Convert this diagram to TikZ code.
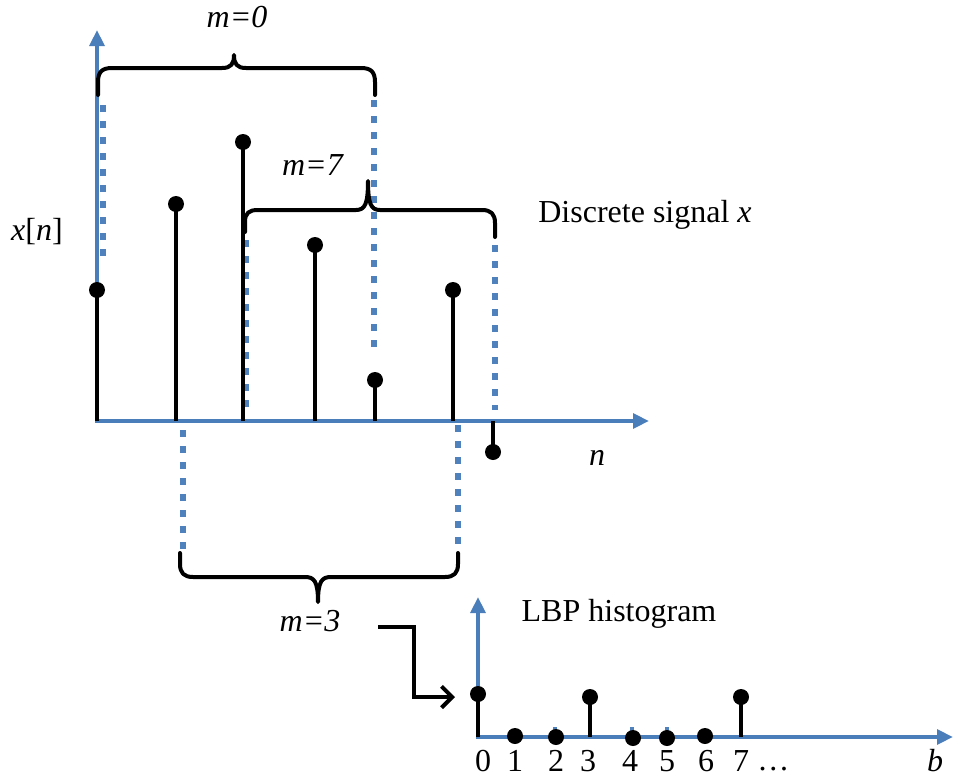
\documentclass[tikz,border=0pt]{standalone}
\usepackage{fontspec}
\setmainfont{Liberation Serif}
\usetikzlibrary{arrows.meta,calc}
\definecolor{axblue}{RGB}{74,126,187}
\definecolor{dotblue}{RGB}{79,129,189}
\begin{document}
\begin{tikzpicture}[x=0.75pt,y=-0.75pt,
 axis/.style={axblue,line width=3pt,-{Triangle[length=12pt,width=11pt]}},
 stem/.style={line width=3.4pt,black},
 dot/.style={circle,fill=black,inner sep=0pt,minimum size=12pt},
 dots/.style={dotblue,line width=5pt,dash pattern=on 5pt off 7pt},
 brace/.style={line width=3pt,black,line cap=round,line join=round},
 lbl/.style={font=\fontsize{24}{28}\selectfont,inner sep=0pt},
 elbow/.style={line width=3pt,black,-{Straight Barb[length=8pt,width=16pt,line width=3pt]}}]
\useasboundingbox (0,0) rectangle (954,778);

% ---- top axes
\coordinate (o) at (97,421);
\coordinate (ytop) at (97,30);
\coordinate (xend) at (649,421);
\draw[axis] (o) -- (ytop);
\draw[axis] ($(o)+(-2,0)$) -- (xend);

% ---- dotted window lines
\coordinate (da1) at (103,105); \coordinate (da2) at (103,262);
\coordinate (db1) at (374,100); \coordinate (db2) at (374,352);
\coordinate (dc1) at (246,240); \coordinate (dc2) at (246,412);
\coordinate (dd1) at (495,245); \coordinate (dd2) at (495,410);
\coordinate (de1) at (183,430); \coordinate (de2) at (183,552);
\coordinate (df1) at (458,425); \coordinate (df2) at (458,549);
\foreach \a/\b in {da1/da2,db1/db2,dc1/dc2,dd1/dd2,de1/de2,df1/df2}
  \draw[dots] (\a) -- (\b);

% ---- signal stems
\foreach \n/\x/\y in {s1/97/290,s2/176/204,s3/243/142,s4/315/245,s5/375/380,s6/453/290,s7/493/452}{
  \coordinate (\n b) at (\x,421);
  \node[dot] (\n) at (\x,\y) {};
  \draw[stem] (\n b) -- (\n.center);
}

% ---- braces
\draw[brace] (98,95) -- (98,82) .. controls (98,72) and (102,68) .. (112,68) -- (222,68)
  .. controls (231,68) and (234,64) .. (234,55) .. controls (234,64) and (237,68) .. (246,68)
  -- (361,68) .. controls (371,68) and (375,72) .. (375,82) -- (375,95);
\draw[brace] (245,232) -- (245,222) .. controls (245,213) and (249,210) .. (258,210) -- (356,210)
  .. controls (365,210) and (368,204) .. (368,181) .. controls (368,204) and (371,210) .. (380,210)
  -- (482,210) .. controls (491,210) and (495,214) .. (495,223) -- (495,237);
\draw[brace] (180,553) -- (180,564) .. controls (180,573) and (184,577) .. (193,577) -- (305,577)
  .. controls (314,577) and (318,581) .. (318,602) .. controls (318,581) and (322,577) .. (331,577)
  -- (445,577) .. controls (454,577) and (458,573) .. (458,564) -- (458,553);

% ---- labels
\node[lbl] (m0) at (237,17) {\textit{m=0}};
\node[lbl] (m7) at (313,165) {\textit{m=7}};
\node[lbl] (m3) at (310,621) {\textit{m=3}};
\node[lbl] (xn) at (37,232) {\textit{x}[\textit{n}]};
\node[lbl] (nl) at (597,458) {\textit{n}};
\node[lbl] (ds) at (645,215) {Discrete signal \textit{x}};
\node[lbl] (lbp) at (619,614) {LBP histogram};
\node[lbl] (bl) at (935,761) {\textit{b}};

% ---- histogram axes
\coordinate (ho) at (478,737);
\coordinate (htop) at (478,597);
\coordinate (hend) at (953,737);
\draw[axis] (ho) -- (htop);
\draw[axis] ($(ho)+(-2,0)$) -- (hend);
\foreach \x in {555,632,667}
  \fill[dotblue] (\x-2,727) rectangle (\x+2,735);

% ---- histogram stems
\foreach \n/\x/\y in {h0/478/694,h1/515/736,h2/556/737,h3/590/697,h4/633/738,h5/667/738,h6/705/736,h7/741/697}{
  \coordinate (\n b) at (\x,737);
  \node[dot] (\n) at (\x,\y) {};
  \draw[stem] (\n b) -- (\n.center);
}
\foreach \t/\x in {0/483,1/515,2/556,3/588,4/630,5/667,6/706,7/741}
  \node[lbl] (l\t) at (\x,761) {\t};
\node[lbl,anchor=base west] (ell) at (757,770) {\textellipsis};

% ---- elbow arrow
\coordinate (ea) at (378,627);
\coordinate (eb) at (455,697);
\draw[elbow] (ea) -- ++(36,0) |- (eb);
\end{tikzpicture}
\end{document}
